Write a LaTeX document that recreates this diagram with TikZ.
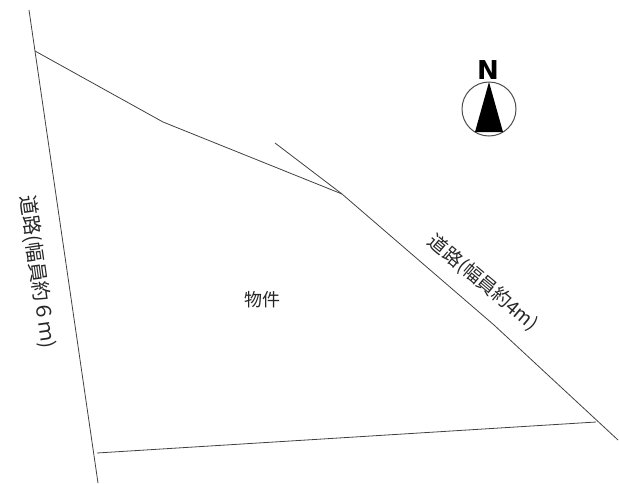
\documentclass[tikz,border=0pt]{standalone}
\usepackage{fontspec}
\setmainfont{Liberation Sans}
\newfontfamily\jpfont{Noto Sans CJK JP}
\newfontfamily\northfont{DejaVu Sans}
\tikzset{
  boundary/.style={draw=black!75,line width=0.8pt,line join=round},
  jplabel/.style={inner sep=0pt,font=\jpfont\fontsize{20}{20}\selectfont,text=black!85},
}
\begin{document}
\begin{tikzpicture}[x=1pt,y=-1pt]
\useasboundingbox (0,0) rectangle (619,483);
\coordinate (lt) at (29,10);
\coordinate (lb) at (98,483);
\coordinate (a) at (35,51);
\coordinate (b) at (163,122);
\coordinate (c) at (342,194);
\coordinate (rt) at (275,143);
\coordinate (d) at (494,325);
\coordinate (rb) at (618,440);
\coordinate (e) at (97,453);
\coordinate (f) at (596,422);
\draw[boundary] (lt) -- (lb);
\draw[boundary] (a) -- (b) -- (c);
\draw[boundary] (rt) -- (c) -- (d) -- (rb);
\draw[boundary] (e) -- (f);
\node[jplabel,rotate=-82] (roadw) at (37.5,272) {道路(幅員約６ｍ)};
\node[jplabel,rotate=-40,font=\jpfont\fontsize{19}{19}\selectfont] (roade) at (483,283) {道路(幅員約4m)};
\node[jplabel,font=\jpfont\fontsize{18}{18}\selectfont] (prop) at (262,300) {物件};
\node[draw=black!70,circle,line width=1pt,minimum size=54pt,inner sep=0pt] (compass) at (489,109) {};
\fill[black] (489,82) -- (503,132) -- (475,132) -- cycle;
\node[inner sep=0pt,font=\northfont\bfseries\fontsize{26}{26}\selectfont] (north) at (488,70.5) {N};
\end{tikzpicture}
\end{document}
